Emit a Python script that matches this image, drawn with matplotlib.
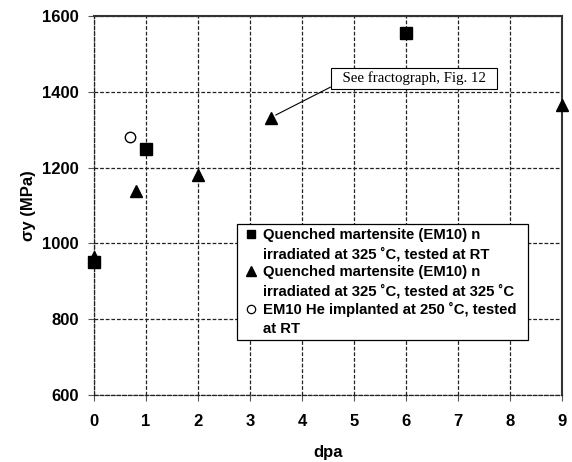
import matplotlib
matplotlib.use("Agg")
import matplotlib.pyplot as plt
from matplotlib.lines import Line2D

plt.rcParams['font.family'] = ['Liberation Sans', 'DejaVu Sans']

# Yield stress vs. damage dose
dpa_rt = [0, 1, 6]
sy_rt = [950, 1250, 1555]

dpa_325 = [0, 0.8, 2, 3.4, 9]
sy_325 = [965, 1137, 1180, 1332, 1364]

dpa_he = [0.7]
sy_he = [1282]

x_ticks = list(range(0, 10))
y_ticks = [600, 800, 1000, 1200, 1400, 1600]

legend_lines = [
    "Quenched martensite (EM10) n",
    "irradiated at 325 \u02daC, tested at RT",
    "Quenched martensite (EM10) n",
    "irradiated at 325 \u02daC, tested at 325 \u02daC",
    "EM10 He implanted at 250 \u02daC, tested",
    "at RT",
]

fig = plt.figure(figsize=(5.72, 4.62), dpi=100)
ax = fig.add_axes([94 / 572, 1 - 395 / 462, 468 / 572, 379 / 462])

ax.set_xlim(0, 9)
ax.set_ylim(600, 1600)
ax.set_xticks(x_ticks)
ax.set_yticks(y_ticks)

ax.grid(True, which='major', color='#222222', linestyle=(0, (3, 1.5)), linewidth=0.9)
ax.set_axisbelow(True)

for side in ('top', 'right'):
    ax.spines[side].set_color('#333333')
    ax.spines[side].set_linewidth(1.5)
for side in ('left', 'bottom'):
    ax.spines[side].set_color('#222222')
    ax.spines[side].set_linewidth(0.9)
    ax.spines[side].set_linestyle((0, (3, 1.5)))

ax.tick_params(axis='both', direction='out', length=4, width=0.8, color='#555555',
               labelsize=12)
ax.tick_params(axis='x', pad=9.5)
ax.tick_params(axis='y', pad=7)
for lab in ax.get_xticklabels() + ax.get_yticklabels():
    lab.set_fontweight('bold')

ax.plot(dpa_325, sy_325, linestyle='none', marker='^', markersize=8,
        color='black', clip_on=False, zorder=3)
ax.plot(dpa_rt, sy_rt, linestyle='none', marker='s', markersize=8,
        color='black', clip_on=False, zorder=4)
ax.plot(dpa_he, sy_he, linestyle='none', marker='o', markersize=7.5,
        markerfacecolor='white', markeredgecolor='black', markeredgewidth=1.0,
        clip_on=False, zorder=4)

ax.set_xlabel('dpa', fontsize=12, fontweight='bold', labelpad=12)
ax.set_ylabel('\u03c3y (MPa)', fontsize=12, fontweight='bold', labelpad=4)

ax.annotate('  See fractograph, Fig. 12  ', xy=(3.4, 1332), xytext=(6.15, 1436),
            textcoords='data', ha='center', va='center',
            fontsize=10.7, family='Liberation Serif',
            bbox=dict(boxstyle='square,pad=0.25', fc='white', ec='black', lw=0.8),
            arrowprops=dict(arrowstyle='-', color='black', lw=0.8,
                            relpos=(0, 0), shrinkA=0, shrinkB=4),
            zorder=5)

blank = Line2D([], [], linestyle='none', marker='none')
handles = [
    Line2D([], [], linestyle='none', marker='s', markersize=6, color='black'),
    blank,
    Line2D([], [], linestyle='none', marker='^', markersize=6.5, color='black'),
    blank,
    Line2D([], [], linestyle='none', marker='o', markersize=6,
           markerfacecolor='white', markeredgecolor='black', markeredgewidth=0.9),
    blank,
]
x0 = (236.7 - 94) / 468
x1 = (528 - 94) / 468
ytop = (395 - 224) / 379
leg = ax.legend(handles, legend_lines, loc='upper left',
                bbox_to_anchor=(x0, ytop - 0.3, x1 - x0, 0.3), mode='expand',
                borderaxespad=0, borderpad=0.3, handlelength=1.38,
                handletextpad=0.1, labelspacing=0.28, fancybox=False,
                framealpha=1, edgecolor='black',
                prop=dict(size=10.7, weight='bold'))
leg.get_frame().set_linewidth(0.9)
leg.set_zorder(6)

fig.savefig('out.png', dpi=100)
